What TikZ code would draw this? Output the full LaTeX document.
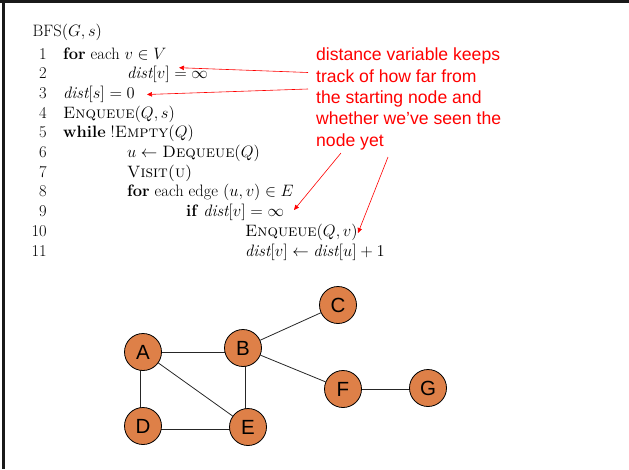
\RequirePackage{fix-cm}
\documentclass[tikz,border=0pt]{standalone}
\usepackage{fontspec}
\newfontfamily\arialfont{Liberation Sans}
\usetikzlibrary{arrows.meta}
\pgfdeclarelayer{background}
\pgfsetlayers{background,main}
\definecolor{vertexfill}{RGB}{222,128,72}
\tikzset{
  algline/.style={anchor=base west, inner sep=0pt, font=\fontsize{16.5}{19.7}\selectfont},
  lineno/.style={anchor=base east, inner sep=0pt, font=\fontsize{16.5}{19.7}\selectfont},
  note/.style={anchor=north west, inner sep=0pt, align=left, text=red,
    font=\arialfont\fontsize{17.6}{21.3}\selectfont},
  pointer/.style={red, line width=0.6pt, -{Triangle[width=4.5pt,length=5pt]}},
  vertex/.style={circle, draw=black, line width=0.8pt, fill=vertexfill,
    minimum size=37pt, inner sep=0pt, font=\arialfont\fontsize{20.5}{24}\selectfont},
  edge/.style={draw=black!85, line width=0.8pt},
  frameline/.style={draw=black!90, line width=3pt}
}
\newcommand{\dvar}{\mathit{dist}}
\begin{document}
\begin{tikzpicture}[x=1pt, y=-1pt]
  \useasboundingbox (0,0) rectangle (629,469);
  % frame edges
  \draw[frameline] (3.5,0) -- (3.5,469);
  \draw[frameline, line width=2.5pt] (0,1.3) -- (629,1.3);

  % pseudocode
  \node[algline] (title) at (32.5,36.7) {BFS$(G,s)$};
  \foreach \k in {1,...,11} {
    \node[lineno] (n\k) at (47,{59+(\k-1)*19.7}) {\k};
  }
  \node[algline] (l1)  at (63,59)    {\textbf{for} each $v \in V$};
  \node[algline] (l2)  at (127,78.7) {$\dvar[v] = \infty$};
  \node[algline] (l3)  at (63,98.4)  {$\dvar[s] = 0$};
  \node[algline] (l4)  at (63,118.1) {\textsc{Enqueue}$(Q,s)$};
  \node[algline] (l5)  at (63,137.8) {\textbf{while} !\textsc{Empty}$(Q)$};
  \node[algline] (l6)  at (127,157.5){$u \leftarrow$ \textsc{Dequeue}$(Q)$};
  \node[algline] (l7)  at (127,177.2){\textsc{Visit(u)}};
  \node[algline] (l8)  at (127,196.9){\textbf{for} each edge $(u,v) \in E$};
  \node[algline] (l9)  at (186,216.6){\textbf{if} $\dvar[v] = \infty$};
  \node[algline] (l10) at (245,236.3){\textsc{Enqueue}$(Q,v)$};
  \node[algline] (l11) at (245,256)  {$\dvar[v] \leftarrow \dvar[u] + 1$};

  % annotation
  \node[note] (memo) at (316,48) {distance variable keeps\\track of how far from\\the starting node and\\whether we’ve seen the\\node yet};
  \coordinate (s1) at (308,72.5);
  \coordinate (t1) at (179,67.7);
  \coordinate (s2) at (308,89);
  \coordinate (t2) at (147,94.5);
  \coordinate (s3) at (341,153);
  \coordinate (t3) at (294,210);
  \coordinate (s4) at (388,157);
  \coordinate (t4) at (358,233);
  \draw[pointer] (s1) -- (t1);
  \draw[pointer] (s2) -- (t2);
  \draw[pointer] (s3) -- (t3);
  \draw[pointer] (s4) -- (t4);

  % graph vertices
  \node[vertex] (A) at (143,352) {A};
  \node[vertex] (B) at (243,348) {B};
  \node[vertex] (C) at (338,305) {C};
  \node[vertex] (D) at (143,426) {D};
  \node[vertex] (E) at (248,427) {E};
  \node[vertex] (F) at (343,389) {F};
  \node[vertex] (G) at (428,388) {G};

  % graph edges, kept behind the vertices
  \begin{pgfonlayer}{background}
    \draw[edge] (A) -- (A -| B);
    \draw[edge] ([xshift=-2.3pt]A.center) -- ([xshift=-2.3pt]A.center |- D);
    \draw[edge] (A) -- (E);
    \draw[edge] ([xshift=2.7pt]B.center) -- ([xshift=2.7pt]B.center |- E);
    \draw[edge] (B) -- (C);
    \draw[edge] (B) -- (F);
    \draw[edge] ([yshift=-3.5pt]D.center) -- ([yshift=-3.5pt]D.center -| E);
    \draw[edge] (F) -- (F -| G);
  \end{pgfonlayer}
\end{tikzpicture}
\end{document}
